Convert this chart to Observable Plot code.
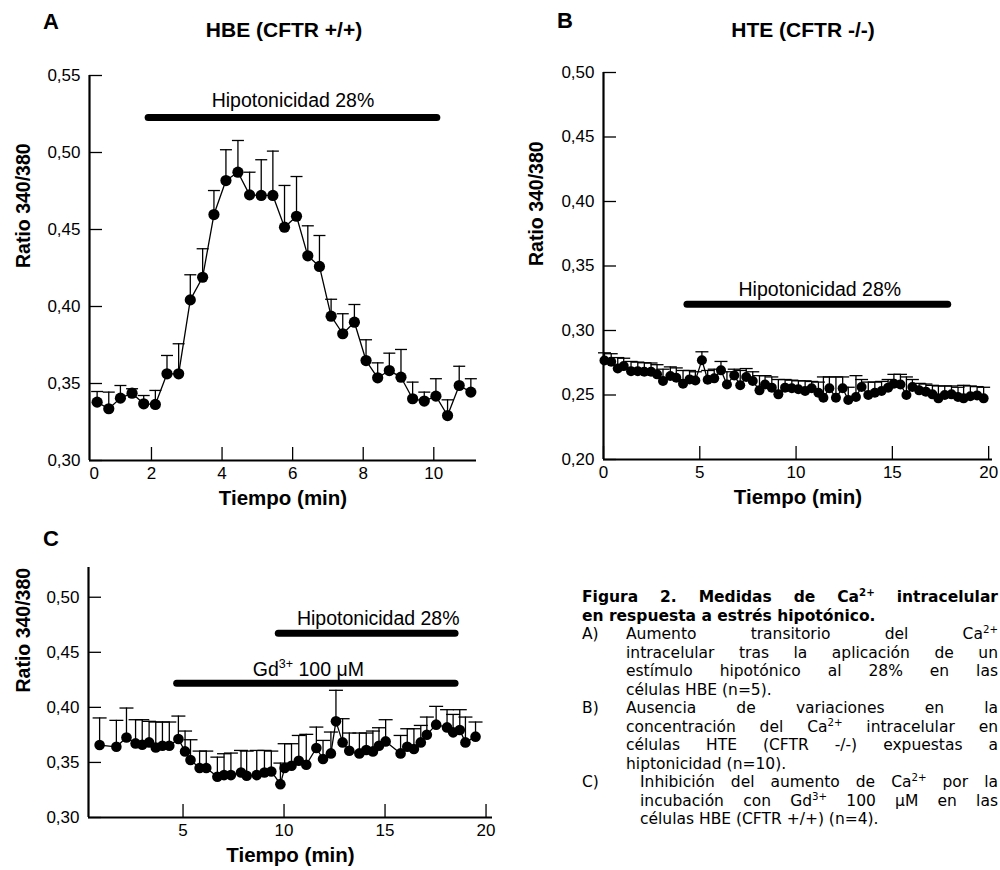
<!DOCTYPE html>
<html><head><meta charset="utf-8">
<script src="https://cdn.jsdelivr.net/npm/d3@7"></script>
<script src="https://cdn.jsdelivr.net/npm/@observablehq/plot@0.6"></script>
<style>
html,body{margin:0;padding:0;background:#fff;}
body{width:1000px;height:870px;position:relative;overflow:hidden;font-family:"Liberation Sans",Arial,sans-serif;color:#000;}
.panel{position:absolute;}
.panel svg{display:block;}
.lbl{position:absolute;font-weight:bold;font-size:22px;line-height:22px;}
.title{position:absolute;font-weight:bold;font-size:21px;line-height:21px;white-space:nowrap;transform:translateX(-50%);}
#caption{position:absolute;left:582px;top:588px;width:416px;font-family:"DejaVu Sans",Verdana,sans-serif;font-size:15.5px;line-height:18.5px;}
#caption .j{text-align:justify;text-align-last:justify;white-space:nowrap;}
#caption .l{text-align:left;white-space:nowrap;}
#caption .head{font-weight:bold;}
#caption .item{display:flex;}
#caption .k{width:44px;flex:none;}
#caption .k2{width:58px;flex:none;}
#caption .tx{flex:1;}
sup{font-size:0.66em;line-height:0;vertical-align:0.55em;}
</style></head>
<body>
<div class="lbl" style="left:43px;top:11px">A</div>
<div class="lbl" style="left:557px;top:10px">B</div>
<div class="lbl" style="left:43px;top:528px">C</div>
<div class="title" style="left:284px;top:19px">HBE (CFTR +/+)</div>
<div class="title" style="left:803px;top:19px">HTE (CFTR -/-)</div>
<div id="A" class="panel" style="left:0;top:0"></div>
<div id="B" class="panel" style="left:500px;top:0"></div>
<div id="C" class="panel" style="left:0;top:530px"></div>
<div id="caption">
  <div class="head">
    <div class="j">Figura 2. Medidas de Ca<sup>2+</sup> intracelular</div>
    <div class="l">en respuesta a estrés hipotónico.</div>
  </div>
  <div class="item"><span class="k">A)</span><span class="tx">
    <div class="j">Aumento transitorio del Ca<sup>2+</sup></div>
    <div class="j">intracelular tras la aplicación de un</div>
    <div class="j">estímulo hipotónico al 28% en las</div>
    <div class="l">células HBE (n=5).</div></span></div>
  <div class="item"><span class="k">B)</span><span class="tx">
    <div class="j">Ausencia de variaciones en la</div>
    <div class="j">concentración del Ca<sup>2+</sup> intracelular en</div>
    <div class="j">células HTE (CFTR -/-) expuestas a</div>
    <div class="l">hiptonicidad (n=10).</div></span></div>
  <div class="item"><span class="k2">C)</span><span class="tx">
    <div class="j">Inhibición del aumento de Ca<sup>2+</sup> por la</div>
    <div class="j">incubación con Gd<sup>3+</sup> 100 μM en las</div>
    <div class="l">células HBE (CFTR +/+) (n=4).</div></span></div>
</div>
<script>
// ---------- DATA ----------
// Panel A: HBE (CFTR +/+)
const tA = [0.46,0.79,1.12,1.45,1.78,2.11,2.44,2.77,3.10,3.45,3.77,4.11,4.45,4.78,5.11,5.44,5.77,6.11,6.43,6.76,7.09,7.42,7.75,8.08,8.41,8.74,9.07,9.40,9.73,10.06,10.39,10.72,11.05];
const vA = [.3379,.3336,.3405,.3437,.3368,.3364,.3563,.3563,.4043,.4190,.4597,.4818,.4872,.4725,.4721,.4721,.4515,.4586,.4329,.4260,.3937,.3823,.3898,.3649,.3537,.3584,.3541,.3401,.3386,.3418,.3292,.3487,.3444];
const eA = [.3448,.3444,.3487,.3466,.3422,.3455,.3682,.3758,.4206,.4375,.4753,.5018,.5078,.4872,.4953,.5009,.4786,.4844,.4524,.4461,.4047,.3953,.4013,.3784,.3634,.3697,.3721,.3509,.3444,.3531,.3394,.3612,.3531];
const xTicksA = [2,4,6,8,10];
const yTicksA = [0.30,0.35,0.40,0.45,0.50,0.55];
const stimA = [{text:"Hipotonicidad 28%", start:1.92, end:10.10, level:0.5227}];

// Panel B: HTE (CFTR -/-)
const tB = [0.05,0.40,0.74,1.05,1.43,1.78,2.12,2.47,2.78,3.09,3.47,3.78,4.13,4.47,4.77,5.11,5.41,5.75,6.10,6.41,6.79,7.10,7.41,7.75,8.10,8.39,8.74,9.08,9.43,9.78,10.12,10.47,10.81,11.16,11.42,11.73,12.07,12.42,12.71,13.11,13.40,13.75,14.09,14.44,14.78,15.08,15.42,15.73,16.04,16.39,16.74,17.08,17.39,17.72,18.07,18.41,18.70,19.05,19.40,19.74];
const vB = [.2768,.2758,.2706,.2724,.2685,.2685,.2680,.2680,.2660,.2608,.2647,.2634,.2588,.2621,.2613,.2770,.2618,.2629,.2691,.2582,.2652,.2575,.2639,.2608,.2536,.2582,.2557,.2505,.2557,.2552,.2544,.2531,.2552,.2518,.2479,.2552,.2479,.2552,.2461,.2485,.2562,.2500,.2518,.2531,.2557,.2588,.2582,.2500,.2562,.2536,.2526,.2505,.2474,.2500,.2505,.2485,.2474,.2490,.2497,.2474];
const eB = [.2827,.2820,.2790,.2785,.2760,.2755,.2750,.2748,.2735,.2700,.2718,.2710,.2690,.2690,.2680,.2835,.2690,.2700,.2760,.2680,.2700,.2690,.2705,.2680,.2650,.2650,.2640,.2620,.2620,.2615,.2610,.2610,.2605,.2600,.2640,.2640,.2640,.2640,.2560,.2650,.2620,.2600,.2600,.2605,.2620,.2660,.2660,.2640,.2620,.2590,.2585,.2575,.2570,.2570,.2570,.2560,.2575,.2570,.2565,.2560];
const xTicksB = [0,5,10,15,20];
const yTicksB = [0.20,0.25,0.30,0.35,0.40,0.45,0.50];
const stimB = [{text:"Hipotonicidad 28%", start:4.36, end:17.90, level:0.3203}];

// Panel C: HBE + Gd3+
const tC = [0.87,1.70,2.20,2.65,2.98,3.32,3.65,3.98,4.32,4.77,5.10,5.37,5.82,6.15,6.70,7.03,7.37,7.87,8.15,8.65,9.03,9.37,9.82,10.03,10.37,10.73,11.10,11.60,11.93,12.32,12.57,12.90,13.23,13.73,14.07,14.40,14.70,15.03,15.77,16.10,16.43,16.77,17.07,17.53,18.07,18.37,18.70,18.98,19.48];
const vC = [.3658,.3642,.3727,.3673,.3661,.3682,.3636,.3652,.3652,.3713,.3600,.3522,.3449,.3449,.3370,.3385,.3385,.3409,.3379,.3385,.3409,.3418,.3303,.3449,.3470,.3515,.3479,.3631,.3531,.3582,.3873,.3682,.3606,.3582,.3613,.3600,.3652,.3691,.3582,.3642,.3622,.3682,.3752,.3843,.3818,.3773,.3795,.3682,.3734];
const eC = [.3904,.3882,.3994,.3888,.3888,.3873,.3867,.3867,.3867,.3921,.3785,.3706,.3603,.3603,.3548,.3579,.3585,.3609,.3603,.3609,.3609,.3603,.3494,.3670,.3670,.3745,.3755,.3821,.3700,.3776,.4155,.3897,.3767,.3767,.3767,.3785,.3815,.3888,.3745,.3806,.3806,.3836,.3912,.4009,.3979,.3936,.3979,.3912,.3867];
const xTicksC = [5,10,15,20];
const yTicksC = [0.30,0.35,0.40,0.45,0.50];
const stimC = [
  {text:"Hipotonicidad 28%", start:9.74, end:18.49, level:0.4673, align:"end"},
  {text:"Gd3+ 100 μM", start:4.71, end:18.49, level:0.4218, align:"middle"}
];

const yLabel = "Ratio 340/380";
const xLabel = "Tiempo (min)";

// ---------- DRAW ----------
const fmt = d => d.toFixed(2).replace(".", ",");
const capSymbol = { draw(ctx, size) { const w = Math.sqrt(size / Math.PI); ctx.moveTo(-w, 0); ctx.lineTo(w, 0); } };

function makePanel(o) {
  const rows = o.t.map((t, i) => ({t, v: o.v[i], e: o.e[i]}));
  const marks = [
    Plot.ruleX(rows, {x: "t", y1: "v", y2: "e", strokeWidth: 1.3}),
    Plot.dot(rows, {x: "t", y: "e", symbol: capSymbol, r: o.capR, stroke: "black", fill: "none", strokeWidth: 1.3}),
    Plot.line(rows, {x: "t", y: "v", stroke: "black", strokeWidth: 1.3}),
    Plot.dot(rows, {x: "t", y: "v", r: o.dotR, fill: "black", stroke: "none"}),
    Plot.ruleX([o.xDomain[0]], {strokeWidth: 2.2, stroke: "black"}),
    Plot.ruleY([o.yDomain[0]], {strokeWidth: 2.2, stroke: "black"}),
    Plot.axisY(o.yTicks, {tickSize: -13, tickPadding: 22, tickFormat: fmt, fontSize: 17, strokeWidth: 1.3, label: null}),
    Plot.axisX(o.xTicks, {tickSize: -13, tickPadding: 19, tickFormat: d => String(d), fontSize: 17, strokeWidth: 1.3, label: null}),
    Plot.text([yLabel], {text: d => d, frameAnchor: "left", dx: o.ylabelDx, rotate: -90, fontWeight: "bold", fontSize: 19.5, fill: "black"}),
    Plot.text([xLabel], {text: d => d, frameAnchor: "bottom", dy: 44, fontWeight: "bold", fontSize: 20.5, fill: "black"}),
    Plot.ruleY(o.stim, {y: "level", x1: "start", x2: "end", strokeWidth: 7, strokeLinecap: "round", stroke: "black"}),
    Plot.text(o.stim.filter(d => d.align !== "end"), {x: d => (d.start + d.end) / 2, y: "level", text: "text", dy: o.textDy, dx: o.textDx || 0, fontSize: 19.5, fill: "black"}),
    Plot.text(o.stim.filter(d => d.align === "end"), {x: "end", y: "level", text: "text", dy: o.textDy, dx: 4, textAnchor: "end", fontSize: 19.5, fill: "black"})
  ];
  if (o.zeroLabel) marks.push(Plot.text([o.zeroLabel], {text: d => d, frameAnchor: "bottom-left", dy: 6, lineAnchor: "top", fontSize: 17, fill: "black"}));
  const svg = Plot.plot({
    width: o.width, height: o.height,
    marginLeft: o.m[0], marginRight: o.m[1], marginTop: o.m[2], marginBottom: o.m[3],
    x: {domain: o.xDomain},
    y: {domain: o.yDomain},
    style: {background: "transparent", fontFamily: "'Liberation Sans', Arial, sans-serif", color: "black", overflow: "visible"},
    marks
  });
  d3.select(svg).selectAll("text").each(function() {
    if (this.textContent === "Gd3+ 100 μM") {
      const t = d3.select(this); t.text("");
      t.append("tspan").text("Gd");
      t.append("tspan").attr("dy", -8).attr("font-size", 12.5).text("3+");
      t.append("tspan").attr("dy", 8).text(" 100 μM");
    }
  });
  return svg;
}

document.getElementById("A").append(makePanel({
  t: tA, v: vA, e: eA, xTicks: xTicksA, yTicks: yTicksA, stim: stimA,
  width: 500, height: 530, m: [89, 24, 75, 70],
  xDomain: [0.244, 11.21], yDomain: [0.30, 0.55],
  dotR: 5.6, capR: 6, ylabelDx: -66, textDy: -17, zeroLabel: "0"
}));
document.getElementById("B").append(makePanel({
  t: tB, v: vB, e: eB, xTicks: xTicksB, yTicks: yTicksB, stim: stimB,
  width: 500, height: 530, m: [103, 8, 72, 71],
  xDomain: [0, 20.2], yDomain: [0.20, 0.50],
  dotR: 5, capR: 6.5, ylabelDx: -67, textDy: -15, textDx: 2
}));
document.getElementById("C").append(makePanel({
  t: tC, v: vC, e: eC, xTicks: xTicksC, yTicks: yTicksC, stim: stimC,
  width: 500, height: 340, m: [88, 8, 37, 53],
  xDomain: [0.32, 20.32], yDomain: [0.30, 0.527],
  dotR: 5.3, capR: 7, ylabelDx: -65, textDy: -14, textDx: -8
}));
</script>
</body></html>
